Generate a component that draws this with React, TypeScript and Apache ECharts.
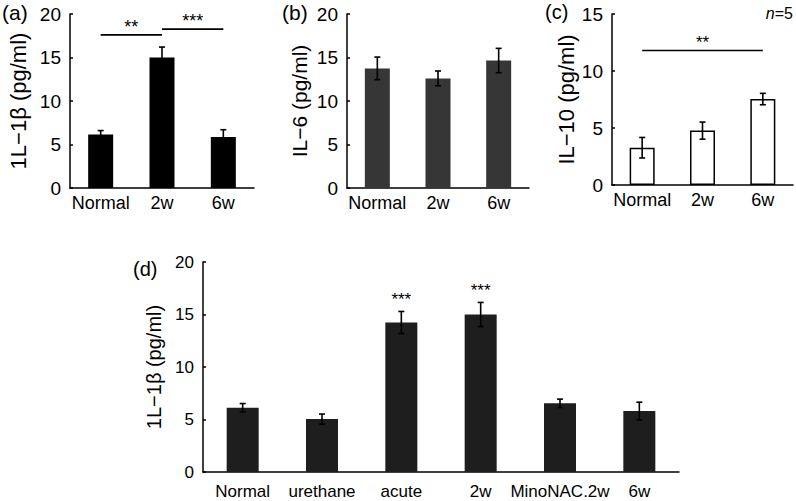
import React, { useEffect, useRef } from "react";
import * as echarts from "echarts";

const FONT = "Liberation Sans, Arial, Helvetica, sans-serif";

const catsTop = ["Normal", "2w", "6w"];
const il1bA = [6.15, 15.0, 5.85];
const il1bAErr = [0.45, 1.2, 0.85];
const il6 = [13.75, 12.6, 14.65];
const il6Err = [1.3, 0.85, 1.4];
const il10 = [3.27, 4.77, 7.54];
const il10Err = [0.9, 0.75, 0.5];

const catsD = ["Normal", "urethane", "acute", "2w", "MinoNAC.2w", "6w"];
const il1bD = [6.12, 5.04, 14.24, 15.0, 6.54, 5.8];
const il1bDErr = [0.4, 0.48, 1.05, 1.15, 0.4, 0.85];
const starsD = ["", "", "***", "***", "", ""];

const sigAFrom = [0, 1];
const sigATo = [1, 2];
const sigAY = [17.6, 18.26];
const sigALabel = ["**", "***"];

const sigCFrom = [0];
const sigCTo = [2];
const sigCY = [11.8];
const sigCLabel = ["**"];

const panelLabels = ["(a)", "(b)", "(c)", "(d)"];

function errorSeries(gridIdx: number, vals: number[], errs: number[], stars?: string[]) {
  return {
    type: "custom",
    xAxisIndex: gridIdx,
    yAxisIndex: gridIdx,
    z: 10,
    encode: { x: 0, y: [1, 2] },
    data: vals.map((v, i) => [i, v - errs[i], v + errs[i]]),
    renderItem: (params: any, api: any) => {
      const x = api.value(0);
      const pLo = api.coord([x, api.value(1)]);
      const pHi = api.coord([x, api.value(2)]);
      const hw = 3;
      const st = { stroke: "#000", lineWidth: 1.6 };
      const children: any[] = [
        { type: "line", shape: { x1: pHi[0], y1: pHi[1], x2: pLo[0], y2: pLo[1] }, style: st },
        { type: "line", shape: { x1: pHi[0] - hw, y1: pHi[1], x2: pHi[0] + hw, y2: pHi[1] }, style: st },
        { type: "line", shape: { x1: pLo[0] - hw, y1: pLo[1], x2: pLo[0] + hw, y2: pLo[1] }, style: st },
      ];
      if (stars && stars[params.dataIndex]) {
        children.push({
          type: "text",
          style: {
            x: pHi[0],
            y: pHi[1] - 12,
            text: stars[params.dataIndex],
            fontSize: 17,
            fontFamily: FONT,
            fill: "#000",
            align: "center",
            verticalAlign: "middle",
          },
        });
      }
      return { type: "group", children };
    },
  };
}

function sigSeries(gridIdx: number, from: number[], to: number[], ys: number[], labels: string[], fs: number) {
  return {
    type: "custom",
    xAxisIndex: gridIdx,
    yAxisIndex: gridIdx,
    z: 10,
    encode: { x: [0, 1], y: 2 },
    data: from.map((f, i) => [f, to[i], ys[i]]),
    renderItem: (params: any, api: any) => {
      const p1 = api.coord([api.value(0), api.value(2)]);
      const p2 = api.coord([api.value(1), api.value(2)]);
      return {
        type: "group",
        children: [
          { type: "line", shape: { x1: p1[0], y1: p1[1], x2: p2[0], y2: p2[1] }, style: { stroke: "#000", lineWidth: 1.6 } },
          {
            type: "text",
            style: {
              x: (p1[0] + p2[0]) / 2,
              y: p1[1] - 8,
              text: labels[params.dataIndex],
              fontSize: fs,
              fontFamily: FONT,
              fill: "#000",
              align: "center",
              verticalAlign: "middle",
            },
          },
        ],
      };
    },
  };
}

function xAxisOf(gridIndex: number, data: string[], fs: number, margin: number) {
  return {
    type: "category",
    gridIndex,
    data,
    axisLine: { lineStyle: { color: "#000", width: 1.5 } },
    axisTick: { inside: true, length: 4, lineStyle: { color: "#000", width: 1.5 } },
    axisLabel: { color: "#000", fontSize: fs, fontFamily: FONT, margin, interval: 0 },
    splitLine: { show: false },
  };
}

function yAxisOf(gridIndex: number, max: number, name: string, fs: number, nameFs: number, nameGap: number) {
  return {
    type: "value",
    gridIndex,
    min: 0,
    max,
    interval: 5,
    name,
    nameLocation: "middle",
    nameRotate: 90,
    nameGap,
    nameTextStyle: { color: "#000", fontSize: nameFs, fontFamily: FONT },
    axisLine: { show: true, lineStyle: { color: "#000", width: 1.5 } },
    axisTick: { show: true, inside: true, length: 3, lineStyle: { color: "#000", width: 1.5 } },
    axisLabel: { color: "#000", fontSize: fs, fontFamily: FONT, margin: 9 },
    splitLine: { show: false },
  };
}

export default function App() {
  const ref = useRef<HTMLDivElement>(null);
  useEffect(() => {
    document.body.style.margin = "0";
    if (!ref.current) return;
    const chart = echarts.init(ref.current, undefined, { renderer: "svg" });
    const option: any = {
      animation: false,
      backgroundColor: "#fff",
      textStyle: { fontFamily: FONT },
      grid: [
        { left: 70, top: 14, width: 184, height: 174 },
        { left: 347, top: 14, width: 182, height: 174 },
        { left: 612, top: 14, width: 181, height: 171 },
        { left: 203, top: 262, width: 476, height: 210 },
      ],
      xAxis: [
        xAxisOf(0, catsTop, 18, 6),
        xAxisOf(1, catsTop, 18, 6),
        xAxisOf(2, catsTop, 18, 6),
        xAxisOf(3, catsD, 17, 11),
      ],
      yAxis: [
        yAxisOf(0, 20, "1L\u22121\u03b2 (pg/ml)", 19, 22, 41),
        yAxisOf(1, 20, "IL\u22126 (pg/ml)", 19, 21, 37),
        yAxisOf(2, 15, "IL\u221210 (pg/ml)", 19, 22, 34),
        yAxisOf(3, 20, "1L\u22121\u03b2 (pg/ml)", 17, 20, 37),
      ],
      series: [
        { type: "bar", xAxisIndex: 0, yAxisIndex: 0, data: il1bA, barWidth: 25, itemStyle: { color: "#000" } },
        errorSeries(0, il1bA, il1bAErr),
        sigSeries(0, sigAFrom, sigATo, sigAY, sigALabel, 18),
        { type: "bar", xAxisIndex: 1, yAxisIndex: 1, data: il6, barWidth: 25, itemStyle: { color: "#363636" } },
        errorSeries(1, il6, il6Err),
        {
          type: "bar",
          xAxisIndex: 2,
          yAxisIndex: 2,
          data: il10,
          barWidth: 25,
          itemStyle: { color: "#fff", borderColor: "#000", borderWidth: 1.5 },
        },
        errorSeries(2, il10, il10Err),
        sigSeries(2, sigCFrom, sigCTo, sigCY, sigCLabel, 17),
        { type: "bar", xAxisIndex: 3, yAxisIndex: 3, data: il1bD, barWidth: 32, itemStyle: { color: "#1e1e1e" } },
        errorSeries(3, il1bD, il1bDErr, starsD),
      ],
      graphic: [
        { type: "text", left: 2, top: 2, style: { text: panelLabels[0], fontSize: 21, fontFamily: FONT, fill: "#000" } },
        { type: "text", left: 282, top: 2, style: { text: panelLabels[1], fontSize: 21, fontFamily: FONT, fill: "#000" } },
        { type: "text", left: 545, top: 2, style: { text: panelLabels[2], fontSize: 20, fontFamily: FONT, fill: "#000" } },
        { type: "text", left: 133, top: 259, style: { text: panelLabels[3], fontSize: 20, fontFamily: FONT, fill: "#000" } },
        {
          type: "text",
          right: 3,
          top: 5,
          style: {
            text: "{i|n}=5",
            fontSize: 16,
            fontFamily: FONT,
            fill: "#000",
            rich: { i: { fontStyle: "italic", fontSize: 16, fontFamily: FONT } },
          },
        },
      ],
    };
    chart.setOption(option);
    return () => chart.dispose();
  }, []);
  return <div ref={ref} style={{ width: 796, height: 501 }} />;
}
